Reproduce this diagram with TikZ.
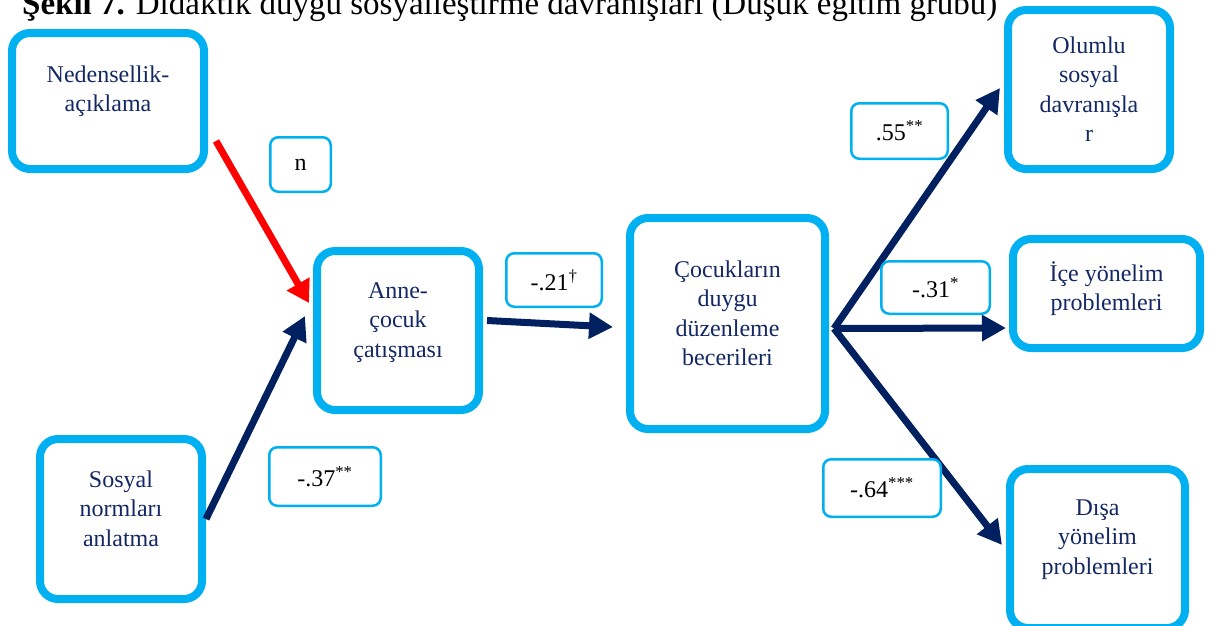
\documentclass[tikz,border=0pt]{standalone}
\usepackage{fontspec}
\setmainfont{Liberation Serif}
\usetikzlibrary{arrows.meta,calc}
\definecolor{cyanb}{RGB}{0,176,240}
\definecolor{navy}{RGB}{0,32,96}
\definecolor{navytext}{RGB}{20,40,100}
\definecolor{redarrow}{RGB}{255,0,0}
\begin{document}
\begin{tikzpicture}[x=1pt,y=-1pt,
  bigbox/.style={draw=cyanb, line width=8pt, rounded corners=18pt, fill=white, inner sep=0pt},
  lblbox/.style={draw=cyanb, line width=2.5pt, rounded corners=8pt, fill=white, inner sep=0pt,
    text=black, font=\fontsize{24}{29.5}\selectfont},
  boxtxt/.style={inner sep=0pt, anchor=base, text=navytext, font=\fontsize{24}{29.5}\selectfont},
  navylink/.style={draw=navy, line width=7pt, -{Triangle[length=24pt,width=25pt]}},
  redlink/.style={draw=redarrow, line width=7pt, -{Triangle[length=22pt,width=25pt]}}
]
\useasboundingbox (0,0) rectangle (1210,625);

% title (cut off at top, as in the reference)
\node[anchor=base west, inner sep=0pt, font=\fontsize{33}{40}\selectfont] (title) at (22,14)
  {\textbf{Şekil 7.} Didaktik duygu sosyalleştirme davranışları (Düşük eğitim grubu)};

% main boxes
\node[bigbox, minimum width=192pt, minimum height=136pt] (ned) at (108,101) {};
\node[bigbox, minimum width=162pt, minimum height=160pt] (sos) at (121,519) {};
\node[bigbox, minimum width=162pt, minimum height=159pt] (anne) at (398,330.5) {};
\node[bigbox, minimum width=195pt, minimum height=211pt] (coc) at (727.5,323.5) {};
\node[bigbox, minimum width=162pt, minimum height=159pt] (olu) at (1089,89.5) {};
\node[bigbox, minimum width=187pt, minimum height=109pt] (ice) at (1106.5,293.5) {};
\node[bigbox, minimum width=175pt, minimum height=159pt] (disa) at (1097.5,548.5) {};

% box texts
\node[boxtxt] (nedt) at ($(ned.north)+(0,53)$) {\begin{tabular}[t]{@{}c@{}}Nedensellik-\\açıklama\end{tabular}};
\node[boxtxt] (sost) at ($(sos.north)+(0,52)$) {\begin{tabular}[t]{@{}c@{}}Sosyal\\normları\\anlatma\end{tabular}};
\node[boxtxt] (annet) at ($(anne.north)+(0,51)$) {\begin{tabular}[t]{@{}c@{}}Anne-\\çocuk\\çatışması\end{tabular}};
\node[boxtxt] (coct) at ($(coc.north)+(0,63)$) {\begin{tabular}[t]{@{}c@{}}Çocukların\\duygu\\düzenleme\\becerileri\end{tabular}};
\node[boxtxt] (olut) at ($(olu.north)+(0,47)$) {\begin{tabular}[t]{@{}c@{}}Olumlu\\sosyal\\davranışla\\r\end{tabular}};
\node[boxtxt] (icet) at ($(ice.north)+(0,46)$) {\begin{tabular}[t]{@{}c@{}}İçe yönelim\\problemleri\end{tabular}};
\node[boxtxt] (disat) at ($(disa.north)+(0,50)$) {\begin{tabular}[t]{@{}c@{}}Dışa\\yönelim\\problemleri\end{tabular}};

% arrows
\draw[redlink] ($(ned.south east)+(8,-32)$) -- ($(anne.west)+(-4,-27.5)$);
\draw[navylink] (sos.east) -- ($(anne.west)+(-8,-14.5)$);
\draw[navylink] ($(anne.east)+(4,-10)$) -- ($(coc.west)+(-13,3.5)$);
\coordinate (hub) at ($(coc.east)+(5,5)$);
\draw[navylink] (hub) -- ($(olu.west)+(-4,-1.5)$);
\draw[navylink] (hub) -- ($(ice.west)+(-3,34.5)$);
\draw[navylink] (hub) -- ($(disa.west)+(-4,-3.5)$);

% coefficient labels
\node[lblbox, minimum width=60.5pt, minimum height=54.5pt] (ln) at (300.5,164.5) {n};
\node[lblbox, minimum width=111.5pt, minimum height=58.5pt] (l37) at (325,476.5) {-.37\textsuperscript{**}};
\node[lblbox, minimum width=95.5pt, minimum height=53.5pt] (l21) at (554,280) {-.21\textsuperscript{\textdagger}};
\node[lblbox, minimum width=96.5pt, minimum height=55.5pt] (l55) at (899.5,131) {.55\textsuperscript{**}};
\node[lblbox, minimum width=108.5pt, minimum height=52.5pt] (l31) at (935.5,287.5) {-.31\textsuperscript{*}};
\node[lblbox, minimum width=117.5pt, minimum height=57.5pt] (l64) at (882,488) {-.64\textsuperscript{***}};
\end{tikzpicture}
\end{document}
